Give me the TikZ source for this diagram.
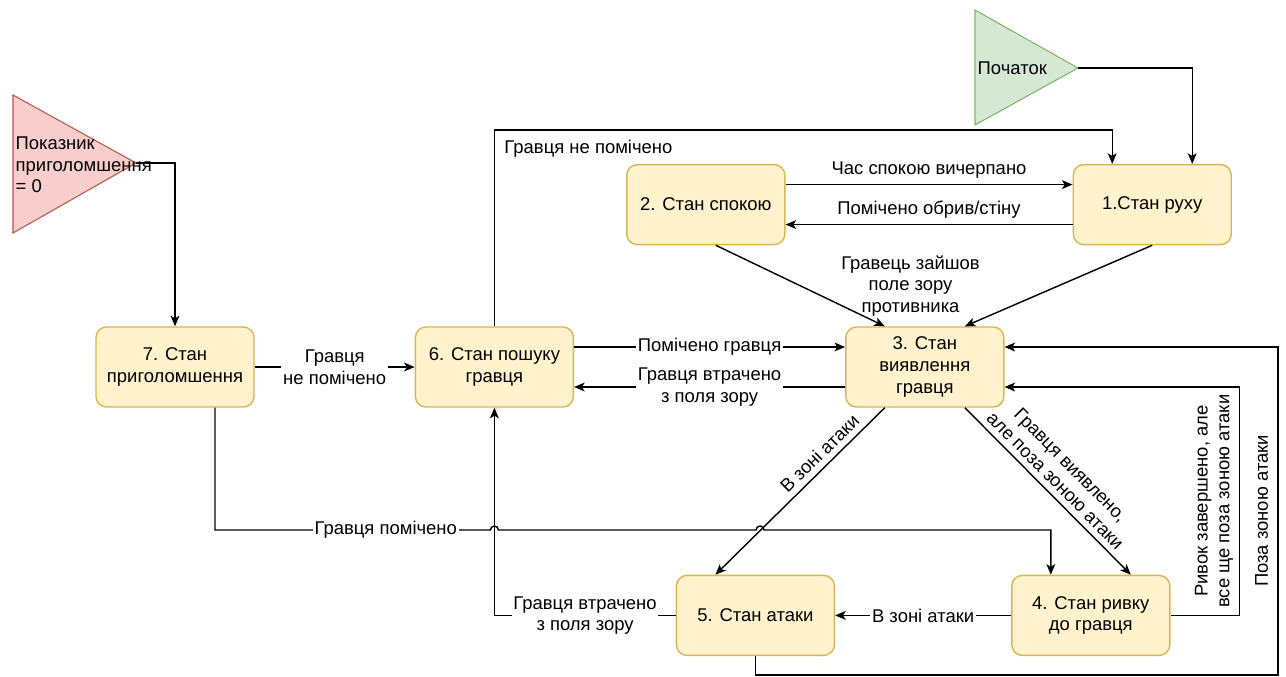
\documentclass[tikz,border=0pt]{standalone}
\usepackage{fontspec}
\setmainfont{Liberation Sans}
\usepackage{tikz}
\usetikzlibrary{arrows.meta}
\usetikzlibrary{positioning}
\usetikzlibrary{calc}
\definecolor{boxfill}{HTML}{FFF2CC}
\definecolor{boxdraw}{HTML}{D6B656}
\definecolor{redfill}{HTML}{F8CECC}
\definecolor{reddraw}{HTML}{B85450}
\definecolor{greenfill}{HTML}{D5E8D4}
\definecolor{greendraw}{HTML}{82B366}

\begin{document}
\begin{tikzpicture}[->,>={Stealth[length=6pt,width=5pt,inset=1.5pt]},line width=0.8pt,
	font=\fontsize{10.5}{12.3}\selectfont,node distance=2cm]
	\tikzstyle{stan}=[draw=boxdraw,fill=boxfill,rounded corners=6pt,minimum width=3.16cm,minimum height=1.6cm,align=center]
	\tikzstyle{lbl}=[fill=white,inner sep=1pt,align=center]
	\tikzstyle{tri}=[-,line width=0.6pt]
	\useasboundingbox (0,0) rectangle (25.72,-13.54);

	% triangles
	\filldraw[tri,draw=reddraw,fill=redfill] (0.26,-1.9) -- (2.72,-3.26) coordinate (stun) -- (0.26,-4.66) -- cycle;
	\node[anchor=west,align=left,inner sep=0] (stuntext) at (0.3,-3.3) {Показник\\приголомшення\\= 0};
	\filldraw[tri,draw=greendraw,fill=greenfill] (19.5,-0.2) -- (21.56,-1.36) coordinate (start) -- (19.5,-2.5) -- cycle;
	\node[anchor=west,inner sep=0] (starttext) at (19.54,-1.36) {Початок};

	% states
	\node[stan] (7) at (3.5,-7.34)                   {7. Стан\\приголомшення};
	\node[stan] (6) [right=3.2cm of 7]               {6. Стан пошуку\\гравця};
	\node[stan] (3) [right=5.42cm of 6]              {3. Стан\\виявлення\\гравця};
	\node[stan] (2) [above=1.62cm of 3,xshift=-4.38cm] {2. Стан спокою};
	\node[stan] (1) [right=5.74cm of 2]              {1.Стан руху};
	\node[stan] (4) [below=3.34cm of 3,xshift=3.32cm] {4. Стан ривку\\до гравця};
	\node[stan] (5) [left=3.52cm of 4]               {5. Стан атаки};

	\coordinate (toprow) at (0,-2.6);
	\coordinate (jrow) at (0,-10.6);
	\coordinate (outer) at (25.56,-13.5);
	\coordinate (jx) at ($([xshift=-0.8cm]3.south)!0.7365!([xshift=-0.8cm]5.north)$);

	\draw (start) -| ([xshift=0.8cm]1.north);
	\draw (stun) -| (7.north);
	\draw (6.north) |- ([xshift=-0.8cm]1.north |- toprow) node[pos=0.5,below right,xshift=2pt,yshift=-2pt] {Гравця не помічено} -- ([xshift=-0.8cm]1.north);
	\draw ([yshift=0.4cm]2.east) -- node[above] {Час спокою вичерпано} ([yshift=0.4cm]1.west);
	\draw ([yshift=-0.4cm]1.west) -- node[above] {Помічено обрив/стіну} ([yshift=-0.4cm]2.east);
	\draw ([xshift=0.2cm]2.south) -- ([xshift=-0.8cm]3.north);
	\draw (1.south) -- node[xshift=-2.96cm,align=center] {Гравець зайшов\\поле зору\\противника} ([xshift=0.8cm]3.north);
	\draw ([yshift=0.4cm]6.east) -- node[lbl] {Помічено гравця} ([yshift=0.4cm]3.west);
	\draw ([yshift=-0.4cm]3.west) -- node[lbl] {Гравця втрачено\\з поля зору} ([yshift=-0.4cm]6.east);
	\draw (7) -- node[lbl] {Гравця\\не помічено} (6);
	\draw ([xshift=-0.8cm]3.south) -- node[pos=0.33,sloped,above] {В зоні атаки} ([xshift=-0.8cm]5.north);
	\draw ([xshift=0.8cm]3.south) -- node[pos=0.49,sloped,above,align=center] {Гравця виявлено,\\але поза зоною атаки} ([xshift=0.8cm]4.north);
	\draw (4) -- node[lbl] {В зоні атаки} (5);
	\draw (4.east) -- ++(1.38,0) |- node[pos=0.25,rotate=90,anchor=south,align=center] {Ривок завершено, але\\все ще поза зоною атаки} ([yshift=-0.4cm]3.east);
	\draw (5.south) |- (outer) |- node[pos=0.25,rotate=90,anchor=south,yshift=2pt] {Поза зоною атаки} ([yshift=0.4cm]3.east);
	\draw (5.west) -| node[pos=0.25,lbl] {Гравця втрачено\\з поля зору} (6.south);
	\draw ([xshift=0.8cm]7.south) |- node[pos=0.81,lbl] {Гравця помічено} ([xshift=-0.08cm]6.south |- jrow)
		arc[start angle=180,end angle=0,radius=0.08cm] -- ([xshift=-0.08cm]jx |- jrow)
		arc[start angle=180,end angle=0,radius=0.08cm] -| ([xshift=-0.8cm]4.north);
\end{tikzpicture}
\end{document}
